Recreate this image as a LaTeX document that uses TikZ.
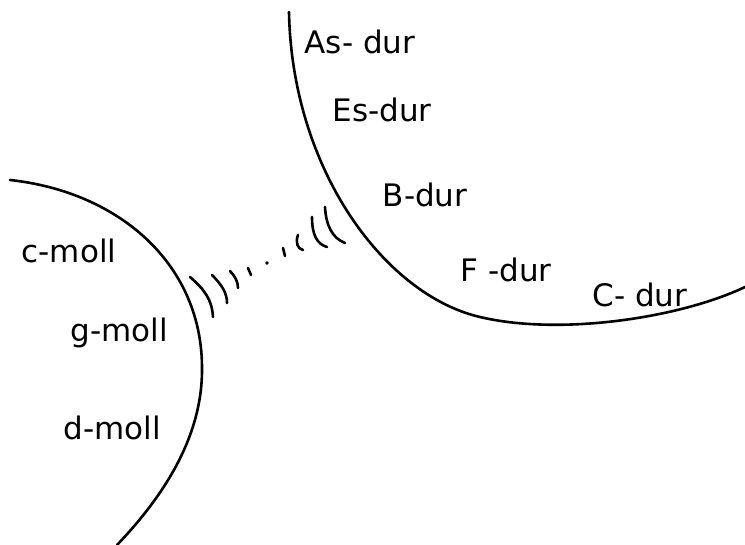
\documentclass[tikz,border=0pt]{standalone}
\usepackage{fontspec}
\setmainfont{DejaVu Sans}
\begin{document}
\begin{tikzpicture}[x=1pt,y=-1pt,
  stroke/.style={line width=2.6pt,line cap=round,line join=round},
  tick/.style={line width=2.6pt,line cap=round},
  key/.style={font=\fontsize{31}{34}\selectfont,inner sep=0pt,anchor=center}]
\useasboundingbox (0,0) rectangle (745,545);
% upper-right region (major keys)
\draw[stroke] (289,12) .. controls (292,170) and (385,295) .. (480,317)
  .. controls (560,336) and (680,318) .. (745,287);
% lower-left region (minor keys)
\draw[stroke] (10,180) .. controls (120,192) and (203,265) .. (202,370)
  .. controls (202,440) and (160,500) .. (117,545);
% squiggles between
\draw[tick] (190,277) .. controls (205,290) and (212,300) .. (213,317);
\draw[tick] (212,275) .. controls (222,285) and (227,293) .. (227,303);
\draw[tick] (230,271) .. controls (235,276) and (238,282) .. (238,288);
\draw[tick] (248,268) -- (251,275);
\fill (267,263) circle (1.8pt);
\draw[tick] (283,248) -- (285,256);
\draw[tick] (298,235) .. controls (295,243) and (298,249) .. (303,250);
\draw[tick] (312,217) .. controls (312,235) and (317,244) .. (327,247);
\draw[tick] (325,207) .. controls (326,225) and (332,238) .. (345,243);
% labels
\node[key] (as) at (360,42) {As- dur};
\node[key] (es) at (382,110) {Es-dur};
\node[key] (b) at (425,195) {B-dur};
\node[key] (f) at (506,270) {F -dur};
\node[key] (c) at (640,295) {C- dur};
\node[key] (cm) at (69,251) {c-moll};
\node[key] (gm) at (119,333) {g-moll};
\node[key] (dm) at (112,428) {d-moll};
\end{tikzpicture}
\end{document}
